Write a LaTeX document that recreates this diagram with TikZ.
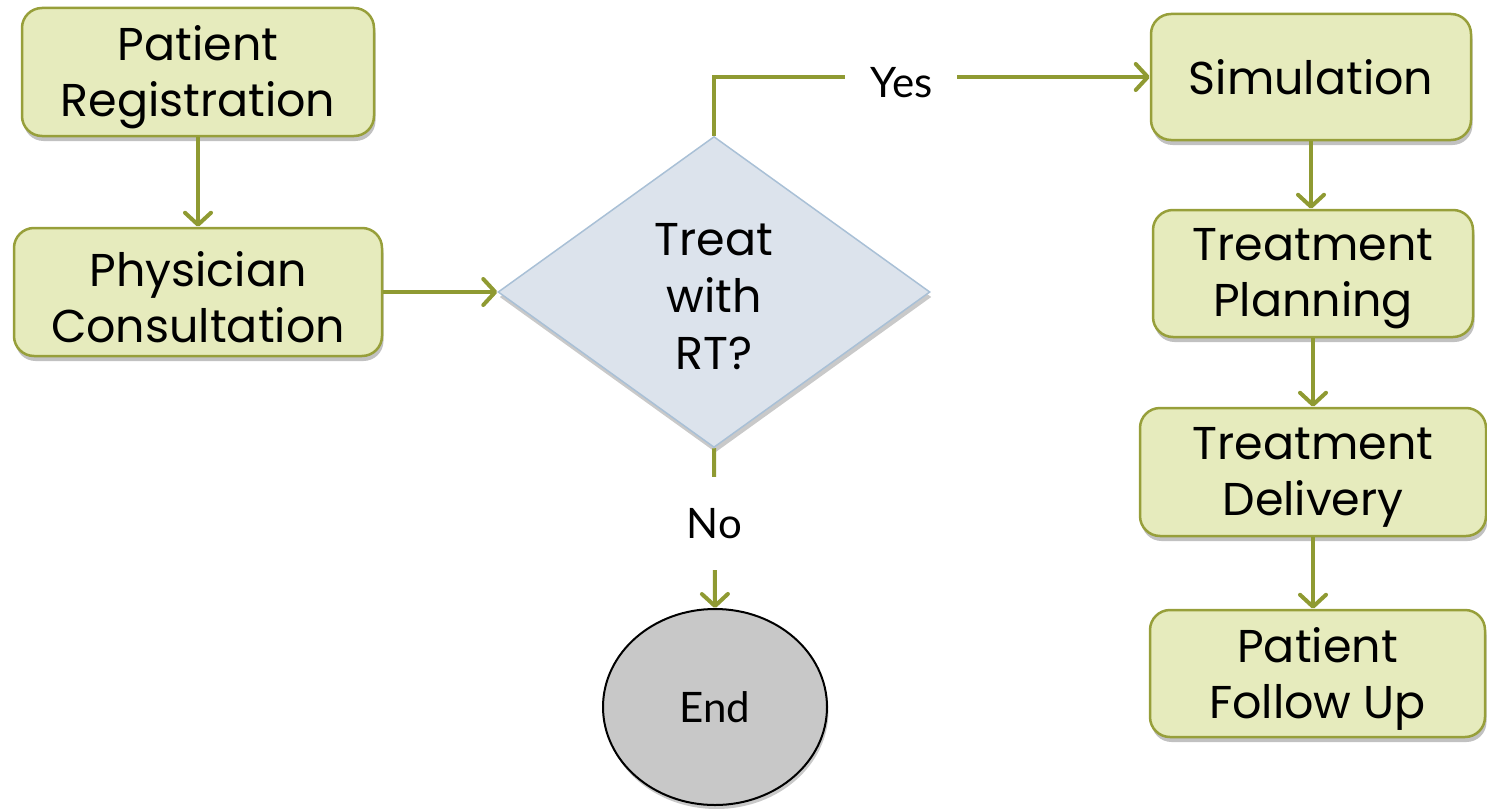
\documentclass[tikz,border=0pt]{standalone}
\usepackage{fontspec}
\setmainfont{Poppins}
\newfontfamily\labelfont{Lato}
\usetikzlibrary{arrows.meta,shapes.geometric,shadows}
\definecolor{boxfill}{HTML}{E6EBBD}
\definecolor{boxline}{HTML}{979F3A}
\definecolor{arrowcol}{HTML}{8F9A32}
\definecolor{decfill}{HTML}{DCE3EC}
\definecolor{decline}{HTML}{A9C0D6}
\definecolor{endfill}{HTML}{C8C8C8}
\newcommand\dn[1]{\raisebox{-5pt}[\height][\depth]{#1}}
\tikzset{
  stepbox/.style={rectangle, rounded corners=20pt, draw=boxline, line width=2.5pt,
    fill=boxfill, align=center, inner sep=0pt,
    font=\fontsize{46}{56}\selectfont,
    drop shadow={shadow xshift=1.5pt, shadow yshift=-5pt, opacity=0.35, fill=black!70}},
  decbox/.style={diamond, draw=decline, line width=1.5pt, fill=decfill, align=center,
    inner sep=0pt, font=\fontsize{46}{57}\selectfont,
    drop shadow={shadow xshift=1.5pt, shadow yshift=-5pt, opacity=0.3, fill=black!70}},
  endbox/.style={ellipse, draw=black, line width=2pt, fill=endfill, inner sep=0pt,
    font=\labelfont\fontsize{42}{50}\selectfont,
    drop shadow={shadow xshift=1.5pt, shadow yshift=-4pt, opacity=0.3, fill=black!70}},
  flow/.style={draw=arrowcol, line width=4pt,
    -{Straight Barb[length=12pt,width=26pt,line cap=round,line join=round]}},
  branch/.style={fill=white, font=\labelfont\fontsize{42}{50}\selectfont, inner sep=0pt}
}
\begin{document}
\begin{tikzpicture}[x=1pt,y=-1pt]
\useasboundingbox (0,0) rectangle (1487,808);
\node[stepbox, minimum width=352pt, minimum height=128pt] (reg) at (198,72) {\dn{Patient}\\\dn{Registration}};
\node[stepbox, minimum width=368pt, minimum height=128pt] (phys) at (198,292) {\dn{Physician}\\\dn{Consultation}};
\node[decbox, minimum width=432pt, minimum height=311pt] (dec) at (714,292) {\dn{Treat}\\\dn{with}\\\dn{RT?}};
\node[stepbox, minimum width=320pt, minimum height=126pt] (sim) at (1311,77) {Simulation};
\node[stepbox, minimum width=320pt, minimum height=127pt] (plan) at (1313,273.5) {\dn{Treatment}\\\dn{Planning}};
\node[stepbox, minimum width=346pt, minimum height=128pt] (deliv) at (1313,472) {\dn{Treatment}\\\dn{Delivery}};
\node[stepbox, minimum width=335pt, minimum height=127pt] (follow) at (1317.5,673.5) {\dn{Patient}\\\dn{Follow Up}};
\node[endbox, minimum width=224pt, minimum height=196pt] (end) at (715,707) {End};

\draw[flow] (reg.south) -- (phys.north);
\draw[flow] (phys.east) -- (dec.west);
\draw[flow] (dec.north) |- node[branch, pos=0.715, minimum width=112pt, minimum height=40pt] (yes) {\raisebox{-6pt}[\height][\depth]{Yes}} (sim.west);
\draw[flow] (dec.south) -- node[branch, pos=0.47, minimum width=60pt, minimum height=93pt] (no) {No} (end.north);
\draw[flow] (sim.south) -- (sim.south |- plan.north);
\draw[flow] (plan.south) -- (plan.south |- deliv.north);
\draw[flow] (deliv.south) -- (deliv.south |- follow.north);
\end{tikzpicture}
\end{document}
